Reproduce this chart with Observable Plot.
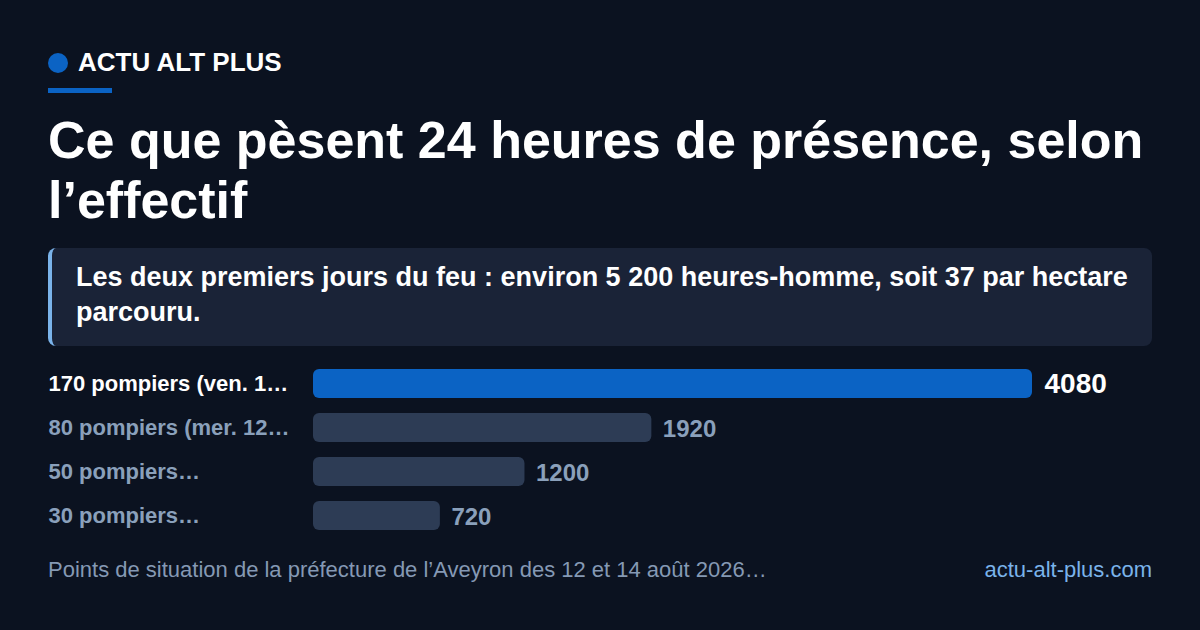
<!DOCTYPE html>
<html><head><meta charset="utf-8">
<script src="https://cdn.jsdelivr.net/npm/d3@7"></script>
<script src="https://cdn.jsdelivr.net/npm/@observablehq/plot@0.6"></script>
<style>
html,body{margin:0;padding:0;background:#0b1220;}
body{width:1200px;height:630px;overflow:hidden;font-family:"Liberation Sans",Arial,sans-serif;color:#fff;position:relative;}
.brand{position:absolute;left:48px;top:47px;display:flex;align-items:center;}
.dot{width:20px;height:20px;border-radius:50%;background:#0b63c4;margin-right:10px;}
.brandtxt{font-weight:700;font-size:26px;color:#fff;}
.rule{position:absolute;left:48px;top:88px;width:64px;height:5px;background:#0b63c4;}
h1{position:absolute;left:48px;top:110px;margin:0;width:1120px;font-size:52px;line-height:60px;font-weight:700;color:#fff;}
.sub{position:absolute;left:48px;top:248px;width:1104px;height:98px;box-sizing:border-box;background:#1a2337;border-radius:8px;border-left:4px solid #7ab3ea;padding:12px 20px 0 24px;font-size:27px;line-height:35px;font-weight:700;color:#fff;}
#chart{position:absolute;left:48px;top:360px;}
.foot{position:absolute;left:48px;top:557px;font-size:22px;color:#8599b4;}
.site{position:absolute;right:48px;top:557px;font-size:22px;color:#7ab3ea;}
</style></head>
<body>
<div class="brand"><div class="dot"></div><div class="brandtxt">ACTU ALT PLUS</div></div>
<div class="rule"></div>
<h1>Ce que pèsent 24 heures de présence, selon l’effectif</h1>
<div class="sub">Les deux premiers jours du feu : environ 5 200 heures-homme, soit 37 par hectare parcouru.</div>
<div id="chart"></div>
<div class="foot">Points de situation de la préfecture de l’Aveyron des 12 et 14 août 2026…</div>
<div class="site">actu-alt-plus.com</div>
<script>
const labels = ["170 pompiers (ven. 1…", "80 pompiers (mer. 12…", "50 pompiers…", "30 pompiers…"];
const values = [4080, 1920, 1200, 720];
const highlight = [true, false, false, false];

const data = labels.map((l, i) => ({label: l, value: values[i], hi: highlight[i]}));

const chart = Plot.plot({
  width: 1104,
  height: 179,
  marginLeft: 265,
  marginRight: 120,
  marginTop: 0,
  marginBottom: 0,
  style: {background: "transparent", fontFamily: "Liberation Sans, Arial, sans-serif"},
  x: {domain: [0, 4080], axis: null},
  y: {domain: labels, axis: null, paddingInner: 0.35, paddingOuter: 0.175},
  marks: [
    Plot.barX(data, {x: "value", y: "label", fill: d => d.hi ? "#0b63c4" : "#2d3c55", rx: 6}),
    Plot.text(data, {x: 0, y: "label", text: "label", textAnchor: "start", dx: -265, fill: d => d.hi ? "#ffffff" : "#8aa0bb", fontSize: 22, fontWeight: 700}),
    Plot.text(data.filter(d => d.hi), {x: "value", y: "label", text: d => String(d.value), textAnchor: "start", dx: 12, dy: 0, fill: "#ffffff", fontSize: 28, fontWeight: 700}),
    Plot.text(data.filter(d => !d.hi), {x: "value", y: "label", text: d => String(d.value), textAnchor: "start", dx: 11, dy: 1, fill: "#8aa0bb", fontSize: 24, fontWeight: 700})
  ]
});
document.getElementById("chart").appendChild(chart);
</script>
</body></html>
